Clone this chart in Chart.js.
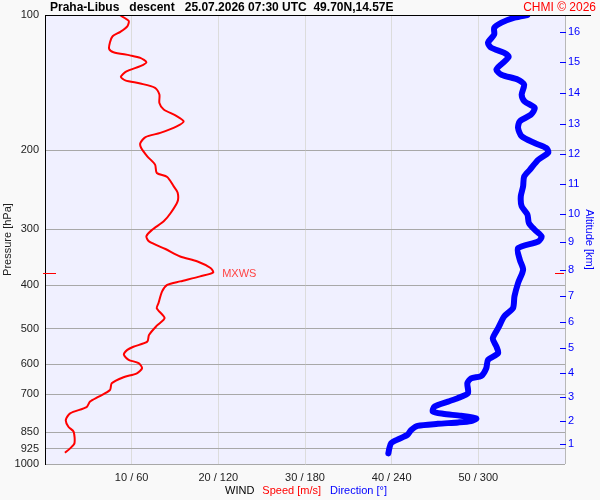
<!DOCTYPE html>
<html><head><meta charset="utf-8">
<script src="https://cdn.jsdelivr.net/npm/chart.js@4"></script>
<style>html,body{margin:0;padding:0;background:#f9f9f9;}#wrap{width:600px;height:500px;position:relative}</style>
</head><body><div id="wrap"><canvas id="c" width="600" height="500"></canvas></div>
<script>
// ---- data ----
const titleText = "Praha-Libus   descent   25.07.2026 07:30 UTC  49.70N,14.57E";
const creditText = "CHMI \u00A9 2026";
const pressureTicks = [100, 200, 300, 400, 500, 600, 700, 850, 925, 1000];
const speedTicks = [0, 10, 20, 30, 40, 50, 60];
const altKm = [1, 2, 3, 4, 5, 6, 7, 8, 9, 10, 11, 12, 13, 14, 15, 16];
const altP  = [904, 803, 710, 628, 551, 483, 422, 370, 320, 278, 238, 204, 175, 149, 127, 109];

const spdP = [100,103,106,109,111.5,115,119,121,123,124.6,127.4,130,133.5,137.3,139.8,142.1,145.3,150.4,157,162.4,167.5,172.5,177,183,187,192.8,197.8,206.4,215.4,224.8,229.5,240.8,248.4,260,276,288,301,311,319.4,332,345,354,366,374.6,382,392,399,413,438,450,473,492,516,534,548,557,571,586,596,612,628,641,661,684,708,726,747,771,798,826,847,899,923,944];
const speed = [8.6,9.65,9.5,8.7,7.8,7.5,7.4,7.9,9.8,11,11.7,11,9.4,8.75,9.26,11,12.7,13.2,13.2,13.7,15.1,16,15.2,13.3,11.6,11,11.1,11.8,12.7,12.9,14.1,14.85,15.3,15.3,14.5,13.7,12.35,11.7,12,13.9,15.6,17.6,19.1,19.4,17.9,15.6,14.1,13.5,13.1,12.9,13.8,12.9,12,11.8,10.2,9.5,9.1,9.65,10.8,11.2,10.6,9.06,7.7,7.5,6.2,5.2,4.8,2.9,2.4,2.7,3.3,3.4,2.9,2.3];

const dirP = [100,101.4,104,106.8,110.5,115.3,118.3,121.4,123.9,127.8,132.3,135.8,139.3,142.9,150.4,155.7,161,166.6,172.5,178.4,186.3,192.8,197.8,202.4,210.2,221.3,229,240.8,253.4,266.6,278.3,290.6,300.8,311.3,319.4,330.5,350.8,369.2,395.4,423.4,449.6,468.8,498.4,525.6,547.6,566.5,586.4,612,636.6,644.4,660.7,695,712.6,726,744.5,764.1,773,781,792,802,808,813.8,822.5,840,860.7,882.2,899,922.6,947];
const direction = [334,325,316,311,311,306.7,309,318,321,317,312.5,316,327.5,331.7,330,332,339,336.5,328.7,327.5,330,339,347,348.4,341.4,335.6,331.7,331,329.4,330,334,335,339,343.8,341.5,327.5,328.7,331,327.5,325,324,318,313.7,310,312.5,313.7,306.7,305.5,302,295,292.4,292.8,286,279,269.7,268.5,275.5,288,298.6,295,286,272,258,253.5,251,244,239.6,238.4,237.7];

// ---- chart ----
const FONT = '"Liberation Sans", Arial, sans-serif';
Chart.defaults.font.family = FONT;
Chart.defaults.font.size = 11;
Chart.defaults.color = '#222';

let maxIdx = 0;
speed.forEach((v, i) => { if (v > speed[maxIdx]) maxIdx = i; });

const deco = {
  id: 'deco',
  beforeDraw(chart) {
    const {ctx, chartArea: a} = chart;
    ctx.save();
    ctx.fillStyle = '#f9f9f9';
    ctx.fillRect(0, 0, chart.width, chart.height);
    ctx.fillStyle = '#f0f0ff';
    ctx.fillRect(a.left, a.top, a.right - a.left, a.bottom - a.top);
    ctx.restore();
  },
  afterDraw(chart) {
    const {ctx, chartArea: a, scales} = chart;
    ctx.save();
    // top border
    ctx.strokeStyle = '#000'; ctx.lineWidth = 1;
    ctx.beginPath();
    ctx.moveTo(a.left, Math.round(a.top) + 0.5);
    ctx.lineTo(chart.width - 9, Math.round(a.top) + 0.5);
    ctx.stroke();
    // altitude tick marks (straddling the right edge)
    ctx.strokeStyle = '#0000ff';
    ctx.beginPath();
    scales.y2.ticks.forEach(t => {
      const ty = Math.round(scales.y2.getPixelForValue(t.value)) + 0.5;
      ctx.moveTo(a.right - 5, ty); ctx.lineTo(a.right + 1, ty);
    });
    ctx.stroke();
    // header
    ctx.textBaseline = 'middle';
    ctx.textAlign = 'left';
    ctx.fillStyle = '#000';
    ctx.font = 'bold 12px ' + FONT;
    ctx.fillText(titleText, a.left + 5, 8);
    ctx.textAlign = 'right';
    ctx.fillStyle = '#ff0000';
    ctx.font = '12px ' + FONT;
    ctx.fillText(creditText, chart.width - 4, 8);
    // bottom legend
    ctx.textAlign = 'left';
    ctx.font = '11px ' + FONT;
    const y = 491;
    let x = 225;
    ctx.fillStyle = '#000'; ctx.fillText('WIND', x, y); x += ctx.measureText('WIND').width + 8;
    ctx.fillStyle = '#ff0000'; ctx.fillText('Speed [m/s]', x, y); x += ctx.measureText('Speed [m/s]').width + 9;
    ctx.fillStyle = '#0000ff'; ctx.fillText('Direction [\u00B0]', x, y);
    // MXWS marker
    const my = Math.round(scales.y.getPixelForValue(spdP[maxIdx])) + 0.5;
    const mx = scales.x.getPixelForValue(speed[maxIdx]);
    ctx.strokeStyle = '#ff0000'; ctx.lineWidth = 1.2;
    ctx.beginPath();
    ctx.moveTo(a.left - 2, my); ctx.lineTo(a.left + 11, my);
    ctx.moveTo(a.right - 10, my); ctx.lineTo(a.right - 1, my);
    ctx.stroke();
    ctx.fillStyle = '#ff4444';
    ctx.font = '11px ' + FONT;
    ctx.fillText('MXWS', mx + 9, my);
    ctx.restore();
  }
};

new Chart(document.getElementById('c'), {
  type: 'scatter',
  data: {
    datasets: [
      {
        label: 'Speed',
        data: spdP.map((p, i) => ({x: speed[i], y: p})),
        xAxisID: 'x', yAxisID: 'y',
        showLine: true, borderColor: '#ff0000', borderWidth: 2,
        pointRadius: 0, tension: 0.25
      },
      {
        label: 'Direction',
        data: dirP.map((p, i) => ({x: direction[i], y: p})),
        xAxisID: 'x2', yAxisID: 'y',
        showLine: true, borderColor: '#0000ff', borderWidth: 6,
        borderCapStyle: 'round', borderJoinStyle: 'round',
        pointRadius: 0, tension: 0.25
      }
    ]
  },
  options: {
    responsive: false, animation: false, devicePixelRatio: 1,
    layout: {padding: {top: 15, left: 0, right: 0, bottom: 0}},
    plugins: {legend: {display: false}, tooltip: {enabled: false}},
    scales: {
      x: {
        type: 'linear', position: 'bottom', min: 0, max: 60,
        afterBuildTicks: s => { s.ticks = speedTicks.map(v => ({value: v})); },
        afterFit: s => { s.height = 36; },
        ticks: {
          padding: 7, maxRotation: 0, autoSkip: false, color: '#222',
          callback: v => (v > 0 && v < 60) ? (v + ' / ' + v * 6) : ''
        },
        grid: {
          drawTicks: false,
          color: c => c.tick.value === 0 ? 'rgba(0,0,0,0)' : (c.tick.value === 60 ? '#b8b8b8' : '#dcdcdc')
        },
        border: {display: false}
      },
      x2: {type: 'linear', min: 0, max: 360, display: false},
      y: {
        type: 'logarithmic', position: 'left', min: 100, max: 1000, reverse: true,
        afterBuildTicks: s => { s.ticks = pressureTicks.map(v => ({value: v})); },
        afterFit: s => { s.width = 45; },
        ticks: {padding: 6, color: '#222', autoSkip: false, callback: v => String(v)},
        grid: {
          drawTicks: false,
          color: c => c.tick.value === 100 ? 'rgba(0,0,0,0)' : '#a8a8a8'
        },
        border: {display: true, color: '#000', width: 1},
        title: {display: true, text: 'Pressure [hPa]', color: '#222', font: {size: 11}, padding: {top: 1, bottom: 0}}
      },
      y2: {
        type: 'logarithmic', position: 'right', min: 100, max: 1000, reverse: true,
        afterBuildTicks: s => { s.ticks = altP.map(v => ({value: v})); },
        afterFit: s => { s.width = 35; },
        ticks: {
          padding: 3, color: '#0000ff', autoSkip: false,
          callback: v => { const i = altP.indexOf(v); return i >= 0 ? String(altKm[i]) : ''; }
        },
        grid: {drawOnChartArea: false, drawTicks: false, color: '#0000ff'},
        border: {display: false},
        title: {display: true, text: 'Altitude [km]', color: '#0000ff', font: {size: 11}}
      }
    }
  },
  plugins: [deco]
});
</script>
</body></html>
